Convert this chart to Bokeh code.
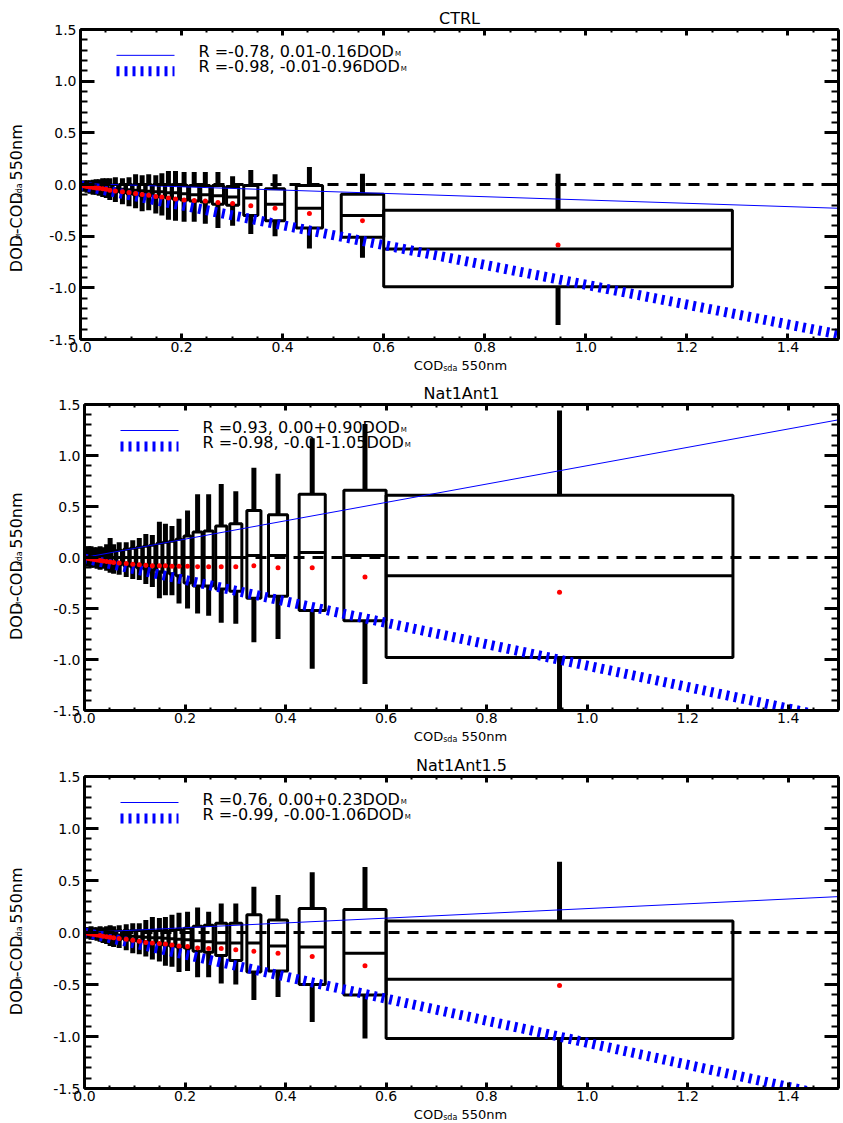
import numpy as np
from bokeh.plotting import figure
from bokeh.models import (LinearAxis, SingleIntervalTicker, NumeralTickFormatter, Label,
                          Span, Range1d, CustomJSTickFormatter)
from bokeh.layouts import column, row
from bokeh.embed import file_html
from bokeh.resources import INLINE

# ---------------- data ----------------
bin_x = [0.003, 0.008, 0.013, 0.019, 0.025, 0.031, 0.037, 0.044, 0.051, 0.058,
         0.069, 0.083, 0.096, 0.109, 0.122, 0.135, 0.149, 0.161, 0.174, 0.188,
         0.205, 0.225, 0.247, 0.272, 0.301, 0.337, 0.385, 0.453, 0.558, 0.945]
bin_w = [0.004, 0.004, 0.004, 0.005, 0.005, 0.005, 0.005, 0.006, 0.006, 0.007,
         0.009, 0.010, 0.010, 0.010, 0.010, 0.010, 0.010, 0.010, 0.011, 0.012,
         0.014, 0.018, 0.018, 0.022, 0.024, 0.028, 0.038, 0.052, 0.084, 0.690]

titles = ["CTRL", "Nat1Ant1", "Nat1Ant1.5"]

# CTRL
ctrl_wlo = [-0.05, -0.07, -0.08, -0.09, -0.10, -0.10, -0.11, -0.12, -0.13, -0.15,
            -0.17, -0.19, -0.21, -0.23, -0.26, -0.25, -0.28, -0.30, -0.34, -0.35,
            -0.36, -0.36, -0.38, -0.42, -0.40, -0.48, -0.50, -0.62, -0.71, -1.36]
ctrl_q1 = [-0.02, -0.03, -0.035, -0.04, -0.045, -0.05, -0.055, -0.06, -0.065, -0.07,
           -0.075, -0.08, -0.09, -0.10, -0.11, -0.11, -0.12, -0.12, -0.13, -0.14,
           -0.15, -0.16, -0.17, -0.19, -0.20, -0.30, -0.35, -0.42, -0.51, -0.99]
ctrl_med = [-0.005, -0.01, -0.015, -0.02, -0.02, -0.025, -0.03, -0.03, -0.035, -0.04,
            -0.04, -0.045, -0.05, -0.055, -0.06, -0.065, -0.07, -0.07, -0.08, -0.08,
            -0.09, -0.10, -0.10, -0.11, -0.12, -0.13, -0.19, -0.23, -0.30, -0.625]
ctrl_q3 = [0.005, 0.005, 0.005, 0.005, 0.005, 0.0, 0.0, 0.0, 0.0, 0.0,
           0.0, 0.0, 0.0, 0.0, 0.0, 0.0, 0.0, 0.0, 0.0, 0.0,
           -0.01, -0.01, -0.01, -0.01, -0.02, -0.01, -0.04, -0.01, -0.095, -0.25]
ctrl_whi = [0.03, 0.04, 0.04, 0.04, 0.045, 0.05, 0.05, 0.06, 0.06, 0.06,
            0.07, 0.06, 0.07, 0.10, 0.09, 0.10, 0.09, 0.11, 0.13, 0.13,
            0.12, 0.12, 0.12, 0.12, 0.08, 0.14, 0.10, 0.17, 0.105, 0.105]
ctrl_mean = [-0.01, -0.015, -0.02, -0.025, -0.03, -0.033, -0.037, -0.042, -0.047, -0.055,
             -0.062, -0.07, -0.078, -0.088, -0.097, -0.105, -0.115, -0.122, -0.13, -0.14,
             -0.15, -0.155, -0.16, -0.175, -0.185, -0.205, -0.23, -0.28, -0.35, -0.585]

# Nat1Ant1
n1_wlo = [-0.08, -0.09, -0.10, -0.10, -0.11, -0.12, -0.11, -0.13, -0.15, -0.16,
          -0.17, -0.19, -0.21, -0.22, -0.26, -0.29, -0.40, -0.37, -0.37, -0.45,
          -0.50, -0.55, -0.57, -0.64, -0.65, -0.83, -0.80, -1.09, -1.24, -1.60]
n1_q1 = [-0.03, -0.035, -0.04, -0.04, -0.045, -0.05, -0.05, -0.055, -0.06, -0.065,
         -0.07, -0.08, -0.09, -0.10, -0.11, -0.12, -0.14, -0.15, -0.16, -0.18,
         -0.25, -0.28, -0.28, -0.31, -0.33, -0.40, -0.38, -0.52, -0.62, -0.98]
n1_med = [0.0, 0.0, 0.0, 0.0, 0.0, 0.0, 0.0, 0.0, 0.0, 0.0,
          0.0, 0.0, 0.0, 0.0, 0.0, 0.0, 0.0, 0.0, 0.0, 0.0,
          0.0, 0.0, 0.0, 0.0, 0.0, 0.02, 0.02, 0.05, 0.02, -0.18]
n1_q3 = [0.03, 0.035, 0.04, 0.04, 0.045, 0.05, 0.05, 0.055, 0.06, 0.065,
         0.07, 0.08, 0.09, 0.10, 0.11, 0.12, 0.14, 0.15, 0.16, 0.18,
         0.21, 0.25, 0.26, 0.31, 0.33, 0.46, 0.42, 0.62, 0.66, 0.61]
n1_whi = [0.10, 0.11, 0.11, 0.10, 0.10, 0.11, 0.10, 0.13, 0.19, 0.13,
          0.15, 0.15, 0.17, 0.19, 0.23, 0.22, 0.35, 0.33, 0.31, 0.38,
          0.46, 0.62, 0.62, 0.72, 0.65, 0.88, 0.82, 1.17, 1.31, 1.44]
n1_mean = [-0.005, -0.01, -0.015, -0.02, -0.025, -0.03, -0.035, -0.04, -0.045, -0.05,
           -0.055, -0.06, -0.065, -0.07, -0.075, -0.08, -0.08, -0.08, -0.085, -0.085,
           -0.085, -0.09, -0.09, -0.09, -0.09, -0.08, -0.10, -0.10, -0.19, -0.34]

# Nat1Ant1.5
n15_wlo = [-0.05, -0.06, -0.07, -0.07, -0.08, -0.09, -0.10, -0.11, -0.13, -0.14,
           -0.15, -0.17, -0.20, -0.21, -0.23, -0.26, -0.28, -0.32, -0.33, -0.38,
           -0.37, -0.43, -0.43, -0.49, -0.50, -0.65, -0.62, -0.86, -1.02, -1.60]
n15_q1 = [-0.02, -0.025, -0.03, -0.03, -0.035, -0.04, -0.045, -0.05, -0.055, -0.06,
          -0.065, -0.07, -0.08, -0.085, -0.09, -0.10, -0.11, -0.12, -0.13, -0.14,
          -0.15, -0.18, -0.19, -0.22, -0.27, -0.38, -0.37, -0.50, -0.60, -1.02]
n15_med = [0.0, -0.005, -0.01, -0.01, -0.01, -0.015, -0.015, -0.02, -0.02, -0.025,
           -0.025, -0.03, -0.035, -0.04, -0.045, -0.05, -0.05, -0.055, -0.06, -0.065,
           -0.07, -0.08, -0.09, -0.10, -0.10, -0.10, -0.13, -0.14, -0.20, -0.45]
n15_q3 = [0.02, 0.02, 0.02, 0.02, 0.02, 0.02, 0.02, 0.02, 0.02, 0.02,
          0.02, 0.02, 0.02, 0.02, 0.02, 0.02, 0.02, 0.02, 0.02, 0.03,
          0.04, 0.06, 0.07, 0.09, 0.09, 0.17, 0.12, 0.23, 0.22, 0.11]
n15_whi = [0.05, 0.05, 0.06, 0.05, 0.05, 0.06, 0.05, 0.06, 0.07, 0.06,
           0.07, 0.08, 0.09, 0.09, 0.12, 0.15, 0.14, 0.15, 0.17, 0.19,
           0.20, 0.24, 0.20, 0.28, 0.28, 0.44, 0.36, 0.58, 0.63, 0.68]
n15_mean = [-0.005, -0.01, -0.015, -0.02, -0.025, -0.03, -0.035, -0.04, -0.045, -0.05,
            -0.057, -0.065, -0.075, -0.085, -0.095, -0.10, -0.105, -0.11, -0.12, -0.13,
            -0.135, -0.15, -0.155, -0.155, -0.165, -0.18, -0.20, -0.23, -0.32, -0.51]

# regression fits: (intercept, slope) and legend texts
fit_thin = [(0.01, -0.16), (0.00, 0.90), (0.00, 0.23)]
fit_thick = [(-0.01, -0.96), (-0.01, -1.05), (-0.00, -1.06)]
leg_thin = ["R =-0.78, 0.01-0.16DOD", "R =0.93, 0.00+0.90DOD", "R =0.76, 0.00+0.23DOD"]
leg_thick = ["R =-0.98, -0.01-0.96DOD", "R =-0.98, -0.01-1.05DOD", "R =-0.99, -0.00-1.06DOD"]

panels = [
    (ctrl_wlo, ctrl_q1, ctrl_med, ctrl_q3, ctrl_whi, ctrl_mean),
    (n1_wlo, n1_q1, n1_med, n1_q3, n1_whi, n1_mean),
    (n15_wlo, n15_q1, n15_med, n15_q3, n15_whi, n15_mean),
]

x_range_lim = (0.0, 1.5)
y_range_lim = (-1.5, 1.5)

# ---------------- layout / style ----------------
FONT = "DejaVu Sans"
WID = {' ': 0.318, '0': 0.636, '1': 0.636, '2': 0.636, '3': 0.636, '4': 0.636, '5': 0.636,
       '6': 0.636, '7': 0.636, '8': 0.636, '9': 0.636, '.': 0.318, ',': 0.318, '-': 0.361,
       '=': 0.838, '+': 0.838, 'R': 0.695, 'D': 0.770, 'O': 0.787, 'C': 0.698, 'M': 0.863,
       's': 0.521, 'd': 0.635, 'a': 0.613, 'n': 0.634, 'm': 0.974}


def tw(s, fs):
    return sum(WID.get(c, 0.6) for c in s) * fs


FIG_W = 843
FRAME_RIGHT = 838
YLAB_W = 40
BOT_BORDER = 18
PAGE_H = 1123
PEACH = (340, 585, 4)   # left, right, height of the band at the top of the page
# per panel: frame left, frame top (page), frame height, y-label centre offset,
#            top border of the panel figure (holds the title)
frames = [(80, 27, 312, 17, 23), (84, 404, 306, 10, 26), (84, 776, 312, 10, 26)]
XLAB_BELOW = 26      # x-label centre below frame bottom


def strip(w, h, color="white"):
    f = figure(width=w, height=h, x_range=Range1d(0, w), y_range=Range1d(h, 0),
               output_backend="svg", toolbar_location=None,
               x_axis_type=None, y_axis_type=None,
               min_border_left=0, min_border_right=0, min_border_top=0, min_border_bottom=0)
    f.grid.visible = False
    f.outline_line_color = None
    f.background_fill_color = color
    f.border_fill_color = color
    return f


def put_text(fig, x, y, parts, sub_shift, angle=0.0):
    """Write a run of text pieces (main text / subscripts) starting at x (or y when
    rotated), centred on the given line."""
    sign = 1 if angle == 0.0 else -1
    pos = x if angle == 0.0 else y
    for s, f, is_sub in parts:
        lead = len(s) - len(s.lstrip(" "))
        pos += tw(" " * lead, f) * sign
        s2 = s.lstrip(" ")
        if angle == 0.0:
            lx, ly = pos, y + (sub_shift if is_sub else 0)
        else:
            lx, ly = x + (sub_shift if is_sub else 0), pos
        fig.add_layout(Label(x=lx, y=ly, text=s2, text_font=FONT,
                             text_font_size=f"{f}px", text_color="black",
                             text_baseline="middle", text_align="left", angle=angle))
        pos += tw(s2, f) * sign


def style_axis(ax, is_x, labels=True):
    if is_x:
        ax.ticker = SingleIntervalTicker(interval=0.2, num_minor_ticks=4)
        ax.major_tick_in = 6
        ax.minor_tick_in = 3
    else:
        ax.ticker = SingleIntervalTicker(interval=0.5, num_minor_ticks=5)
        ax.major_tick_in = 14
        ax.minor_tick_in = 7
    ax.major_tick_out = 0
    ax.minor_tick_out = 0
    ax.axis_line_width = 3
    ax.major_tick_line_width = 3
    ax.minor_tick_line_width = 2
    ax.axis_line_color = "black"
    ax.major_tick_line_color = "black"
    ax.minor_tick_line_color = "black"
    if labels:
        ax.formatter = NumeralTickFormatter(format="0.0")
        ax.major_label_text_font = FONT
        ax.major_label_text_font_size = "14px"
        ax.major_label_text_color = "black"
        ax.major_label_standoff = 4 if not is_x else 2
    else:
        ax.formatter = CustomJSTickFormatter(code="return ''")
        ax.major_label_text_font_size = "0px"
        ax.major_label_standoff = 0


main_tops = [ft - tb for (_, ft, _, _, tb) in frames]
main_bots = [ft + fh + BOT_BORDER for (_, ft, fh, _, _) in frames]
strip_bounds = [(0, main_tops[0]), (main_bots[0], main_tops[1]),
                (main_bots[1], main_tops[2]), (main_bots[2], PAGE_H)]
strips = [strip(FIG_W, b - a) for a, b in strip_bounds[1:]]

# top band (white | peach | white)
pl, pr, ph = PEACH
top_band = row(strip(pl, ph), strip(pr - pl, ph, "#fdeadc"), strip(FIG_W - pr, ph),
               spacing=0)
gap_h = main_tops[0] - ph
top_parts = [top_band] + ([strip(FIG_W, gap_h)] if gap_h > 0 else [])

rows = []
for i in range(3):
    FL, FT, FH, YOFF, TB = frames[i]
    FW = FRAME_RIGHT - FL
    ppx = FW / (x_range_lim[1] - x_range_lim[0])
    ppy = FH / (y_range_lim[1] - y_range_lim[0])
    main_h = TB + FH + BOT_BORDER

    p = figure(width=FIG_W - YLAB_W, height=main_h, output_backend="svg",
               toolbar_location=None, title=titles[i],
               x_range=Range1d(*x_range_lim), y_range=Range1d(*y_range_lim),
               min_border_left=FL - YLAB_W, min_border_right=FIG_W - FRAME_RIGHT,
               min_border_top=TB, min_border_bottom=BOT_BORDER)
    p.title.align = "center"
    p.title.text_font = FONT
    p.title.text_font_size = "16px"
    p.title.text_font_style = "normal"
    p.title.text_color = "black"
    p.title.standoff = 4
    p.title.offset = 0
    p.grid.visible = False
    p.outline_line_color = None
    p.background_fill_color = "white"
    p.border_fill_color = "white"

    style_axis(p.xaxis[0], True)
    style_axis(p.yaxis[0], False)
    top_ax = LinearAxis()
    style_axis(top_ax, True, labels=False)
    p.add_layout(top_ax, "above")
    right_ax = LinearAxis()
    style_axis(right_ax, False, labels=False)
    p.add_layout(right_ax, "right")

    wlo, q1, med, q3, whi, mean = [np.array(a) for a in panels[i]]
    xs = np.array(bin_x)
    ws = np.array(bin_w)
    left = xs - ws / 2
    right = xs + ws / 2

    p.segment(x0=xs, y0=q3, x1=xs, y1=whi, line_color="black", line_width=5)
    p.segment(x0=xs, y0=wlo, x1=xs, y1=q1, line_color="black", line_width=5)
    p.quad(left=left, right=right, top=q3, bottom=q1, fill_color=None,
           line_color="black", line_width=3)
    p.segment(x0=left, y0=med, x1=right, y1=med, line_color="black", line_width=3)

    p.add_layout(Span(location=0, dimension="width", line_color="black",
                      line_width=3, line_dash="11 8"))

    lx = np.array(x_range_lim)
    a, b = fit_thin[i]
    p.line(lx, a + b * lx, line_color="blue", line_width=1)
    a, b = fit_thick[i]
    p.line(lx, a + b * lx, line_color="blue", line_width=10, line_dash="3 5")

    p.scatter(xs, mean, size=5, fill_color="red", line_color=None)

    # ---- legend (manual, to allow subscripts) ----
    def dx(px):
        return x_range_lim[0] + px / ppx

    def dy(px):
        return y_range_lim[1] - px / ppy

    p.line([dx(36), dx(94)], [dy(26), dy(26)], line_color="blue", line_width=1)
    p.line([dx(36), dx(94)], [dy(42), dy(42)], line_color="blue", line_width=10,
           line_dash="3 5")
    LFS = 16
    for txt, cy in [(leg_thin[i], 22.5), (leg_thick[i], 37.5)]:
        p.add_layout(Label(x=dx(118), y=dy(cy), text=txt, text_font=FONT,
                           text_font_size=f"{LFS}px", text_color="black",
                           text_baseline="middle", text_align="left"))
        p.add_layout(Label(x=dx(118 + tw(txt, LFS) + 1), y=dy(cy + 2.5), text="M",
                           text_font=FONT, text_font_size="7px", text_color="black",
                           text_baseline="middle", text_align="left"))

    # ---- y label strip (rotated, with subscripts) ----
    ys = strip(YLAB_W, main_h)
    YFS = 16
    parts = [("DOD", YFS, False), ("M", 7, True), ("-COD", YFS, False),
             ("sda", 8, True), (" 550nm", YFS, False)]
    total = sum(tw(s, f) for s, f, _ in parts)
    ystart = TB + FH / 2 + YOFF + total / 2
    put_text(ys, 15.5, ystart, parts, 3.0, angle=np.pi / 2)

    rows.append(row(ys, p, spacing=0))

    # ---- x label (strip below) ----
    s_bot = strips[i]
    b0 = strip_bounds[i + 1][0]
    XFS = 13
    parts = [("COD", XFS, False), ("sda", 8, True), (" 550nm", XFS, False)]
    total = sum(tw(s, f) for s, f, _ in parts)
    put_text(s_bot, 460 - total / 2, FT + FH + XLAB_BELOW - b0, parts, 2.5)

layout = column(*top_parts, rows[0], strips[0], rows[1], strips[1], rows[2], strips[2],
                spacing=0)
open("out.html", "w").write(file_html(layout, INLINE))
